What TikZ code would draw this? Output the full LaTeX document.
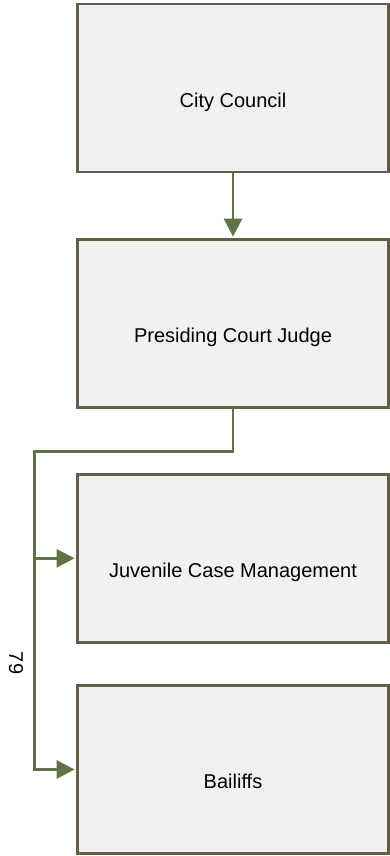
\documentclass[tikz,border=0pt]{standalone}
\usepackage{fontspec}
\setmainfont{Liberation Sans}
\usetikzlibrary{arrows.meta}
\definecolor{boxline}{HTML}{635E47}
\definecolor{boxfill}{HTML}{F2F1EF}
\definecolor{linkgreen}{HTML}{5F7343}
\begin{document}
\begin{tikzpicture}[x=1pt,y=-1pt,
  orgbox/.style={draw=boxline, fill=boxfill, line width=2.7pt,
    minimum width=311.5pt, minimum height=168pt, inner sep=0pt},
  boxtext/.style={font=\fontsize{20}{24}\selectfont, text height=14.3pt,
    text depth=0pt, inner sep=0pt, yshift=-12.3pt},
  trunk/.style={draw=linkgreen, line width=2.6pt},
  link/.style={trunk, shorten >=1.3pt, -{Triangle[length=18pt,width=18pt]}}]
\useasboundingbox (0,0) rectangle (390,856);

% boxes of the chart
\node[orgbox] (cc)  at (233,88)    {};
\node[orgbox] (pcj) at (233,323.3) {};
\node[orgbox] (jcm) at (233,558.3) {};
\node[orgbox] (bal) at (233,769.5) {};

% box captions, set a little below each box centre
\node[boxtext] (cctext)  at (cc.center)  {City Council};
\node[boxtext] (pcjtext) at (pcj.center) {Presiding Court Judge};
\node[boxtext] (jcmtext) at (jcm.center) {Juvenile Case Management};
\node[boxtext] (baltext) at (bal.center) {Bailiffs};

% connectors
\coordinate (split) at (34.7,451.7);
\draw[link] (cc.south) -- (pcj.north);
\draw[link] (pcj.south) |- (split) -- (split |- bal.west) -- (bal.west);
\draw[link] (split |- jcm.west) -- (jcm.west);

% page number
\node[font=\fontsize{20}{24}\selectfont, rotate=-90, inner sep=0pt] (pagenum) at (16,663) {79};
\end{tikzpicture}
\end{document}
